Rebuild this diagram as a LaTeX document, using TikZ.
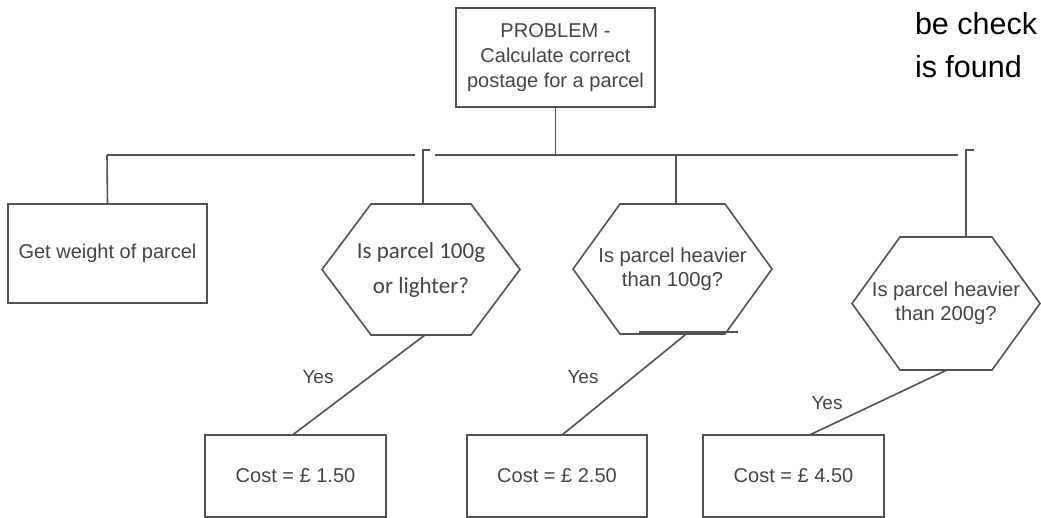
\documentclass[tikz,border=0pt]{standalone}
\usepackage{fontspec}
\setmainfont{Liberation Sans}
\newfontfamily\calibrifont{Carlito}
\definecolor{linegray}{RGB}{82,82,82}
\definecolor{textgray}{RGB}{68,68,68}
% hexagonal decision frame drawn round a named node: #1 node, #2 corner inset
\newcommand\hexframe[2]{%
  \draw[edge] (#1.west) -- ([xshift=#2pt]#1.north west) -- ([xshift=-#2pt]#1.north east)
    -- (#1.east) -- ([xshift=-#2pt]#1.south east) -- ([xshift=#2pt]#1.south west) -- cycle;}
\begin{document}
\begin{tikzpicture}[x=1pt,y=-1pt,
  every node/.style={inner sep=0pt, outer sep=0pt},
  edge/.style={draw=linegray, line width=1.6pt},
  boxnode/.style={draw=linegray, line width=1.6pt, rectangle, align=center,
    text=textgray, font=\fontsize{20}{25}\selectfont},
  hexnode/.style={rectangle, align=center, text=textgray},
  yeslabel/.style={text=textgray, font=\fontsize{19}{22}\selectfont},
  note/.style={anchor=base west, text=black, font=\fontsize{30.5}{36}\selectfont}
]
\useasboundingbox (0,0) rectangle (1041,518);

% problem statement and first step
\node[boxnode, minimum width=199pt, minimum height=99pt] (prob) at (555.5,57.5)
  {PROBLEM -\\Calculate correct\\postage for a parcel};
\node[boxnode, minimum width=199pt, minimum height=99pt] (weigh) at (107.5,253.5)
  {Get weight of parcel};

% decisions
\node[hexnode, minimum width=198pt, minimum height=131pt,
  font=\calibrifont\fontsize{23}{35}\selectfont] (q1) at (421,269.5)
  {Is parcel 100g\\or lighter?};
\node[hexnode, minimum width=199pt, minimum height=130pt,
  font=\fontsize{20.2}{24}\selectfont] (q2) at (672.5,269)
  {Is parcel heavier\\than 100g?};
\node[hexnode, minimum width=188pt, minimum height=133pt,
  font=\fontsize{20.2}{24}\selectfont] (q3) at (946,303.5)
  {Is parcel heavier\\than 200g?};
\hexframe{q1}{49}
\hexframe{q2}{47}
\hexframe{q3}{48}

% outcomes
\node[boxnode, minimum width=181pt, minimum height=82pt] (c1) at (295.5,476) {Cost = £ 1.50};
\node[boxnode, minimum width=180pt, minimum height=82pt] (c2) at (557,476) {Cost = £ 2.50};
\node[boxnode, minimum width=181pt, minimum height=82pt] (c3) at (793.5,476) {Cost = £ 4.50};

% branching bus under the problem box
\coordinate (busL) at (107,155);
\coordinate (busM) at (555.5,155);
\coordinate (gapL) at (415,155);
\coordinate (gapR) at (435,155);
\coordinate (busR) at (958,155);
\coordinate (j1) at (423,150);
\coordinate (j2) at (676,155);
\coordinate (j3) at (966,150);
\draw[edge] (prob.south) -- (busM);
\draw[edge] (busL) -- (gapL);
\draw[edge] (gapR) -- (busR);
\draw[edge] (busL) -- (weigh.north);
\draw[edge] ([xshift=7pt]j1) -- (j1) -- (j1 |- q1.north);
\draw[edge] (j2) -- (j2 |- q2.north);
\draw[edge] ([xshift=8pt]j3) -- (j3) -- (j3 |- q3.north);

% "Yes" branches
\draw[edge] ([xshift=-34pt,yshift=2pt]q2.south) -- ([xshift=65pt,yshift=2pt]q2.south);
\draw[edge] ([xshift=4pt]q1.south) -- ([xshift=-3pt]c1.north);
\draw[edge] ([xshift=15pt,yshift=1pt]q2.south) -- ([xshift=5pt]c2.north);
\draw[edge] ([xshift=1pt]q3.south) -- ([xshift=16pt]c3.north);
\node[yeslabel] (y1) at (318,377) {Yes};
\node[yeslabel] (y2) at (583,377) {Yes};
\node[yeslabel] (y3) at (827,403) {Yes};

% side note
\node[note] (n1) at (915,35) {be check};
\node[note] (n2) at (915,78) {is found};
\end{tikzpicture}
\end{document}
